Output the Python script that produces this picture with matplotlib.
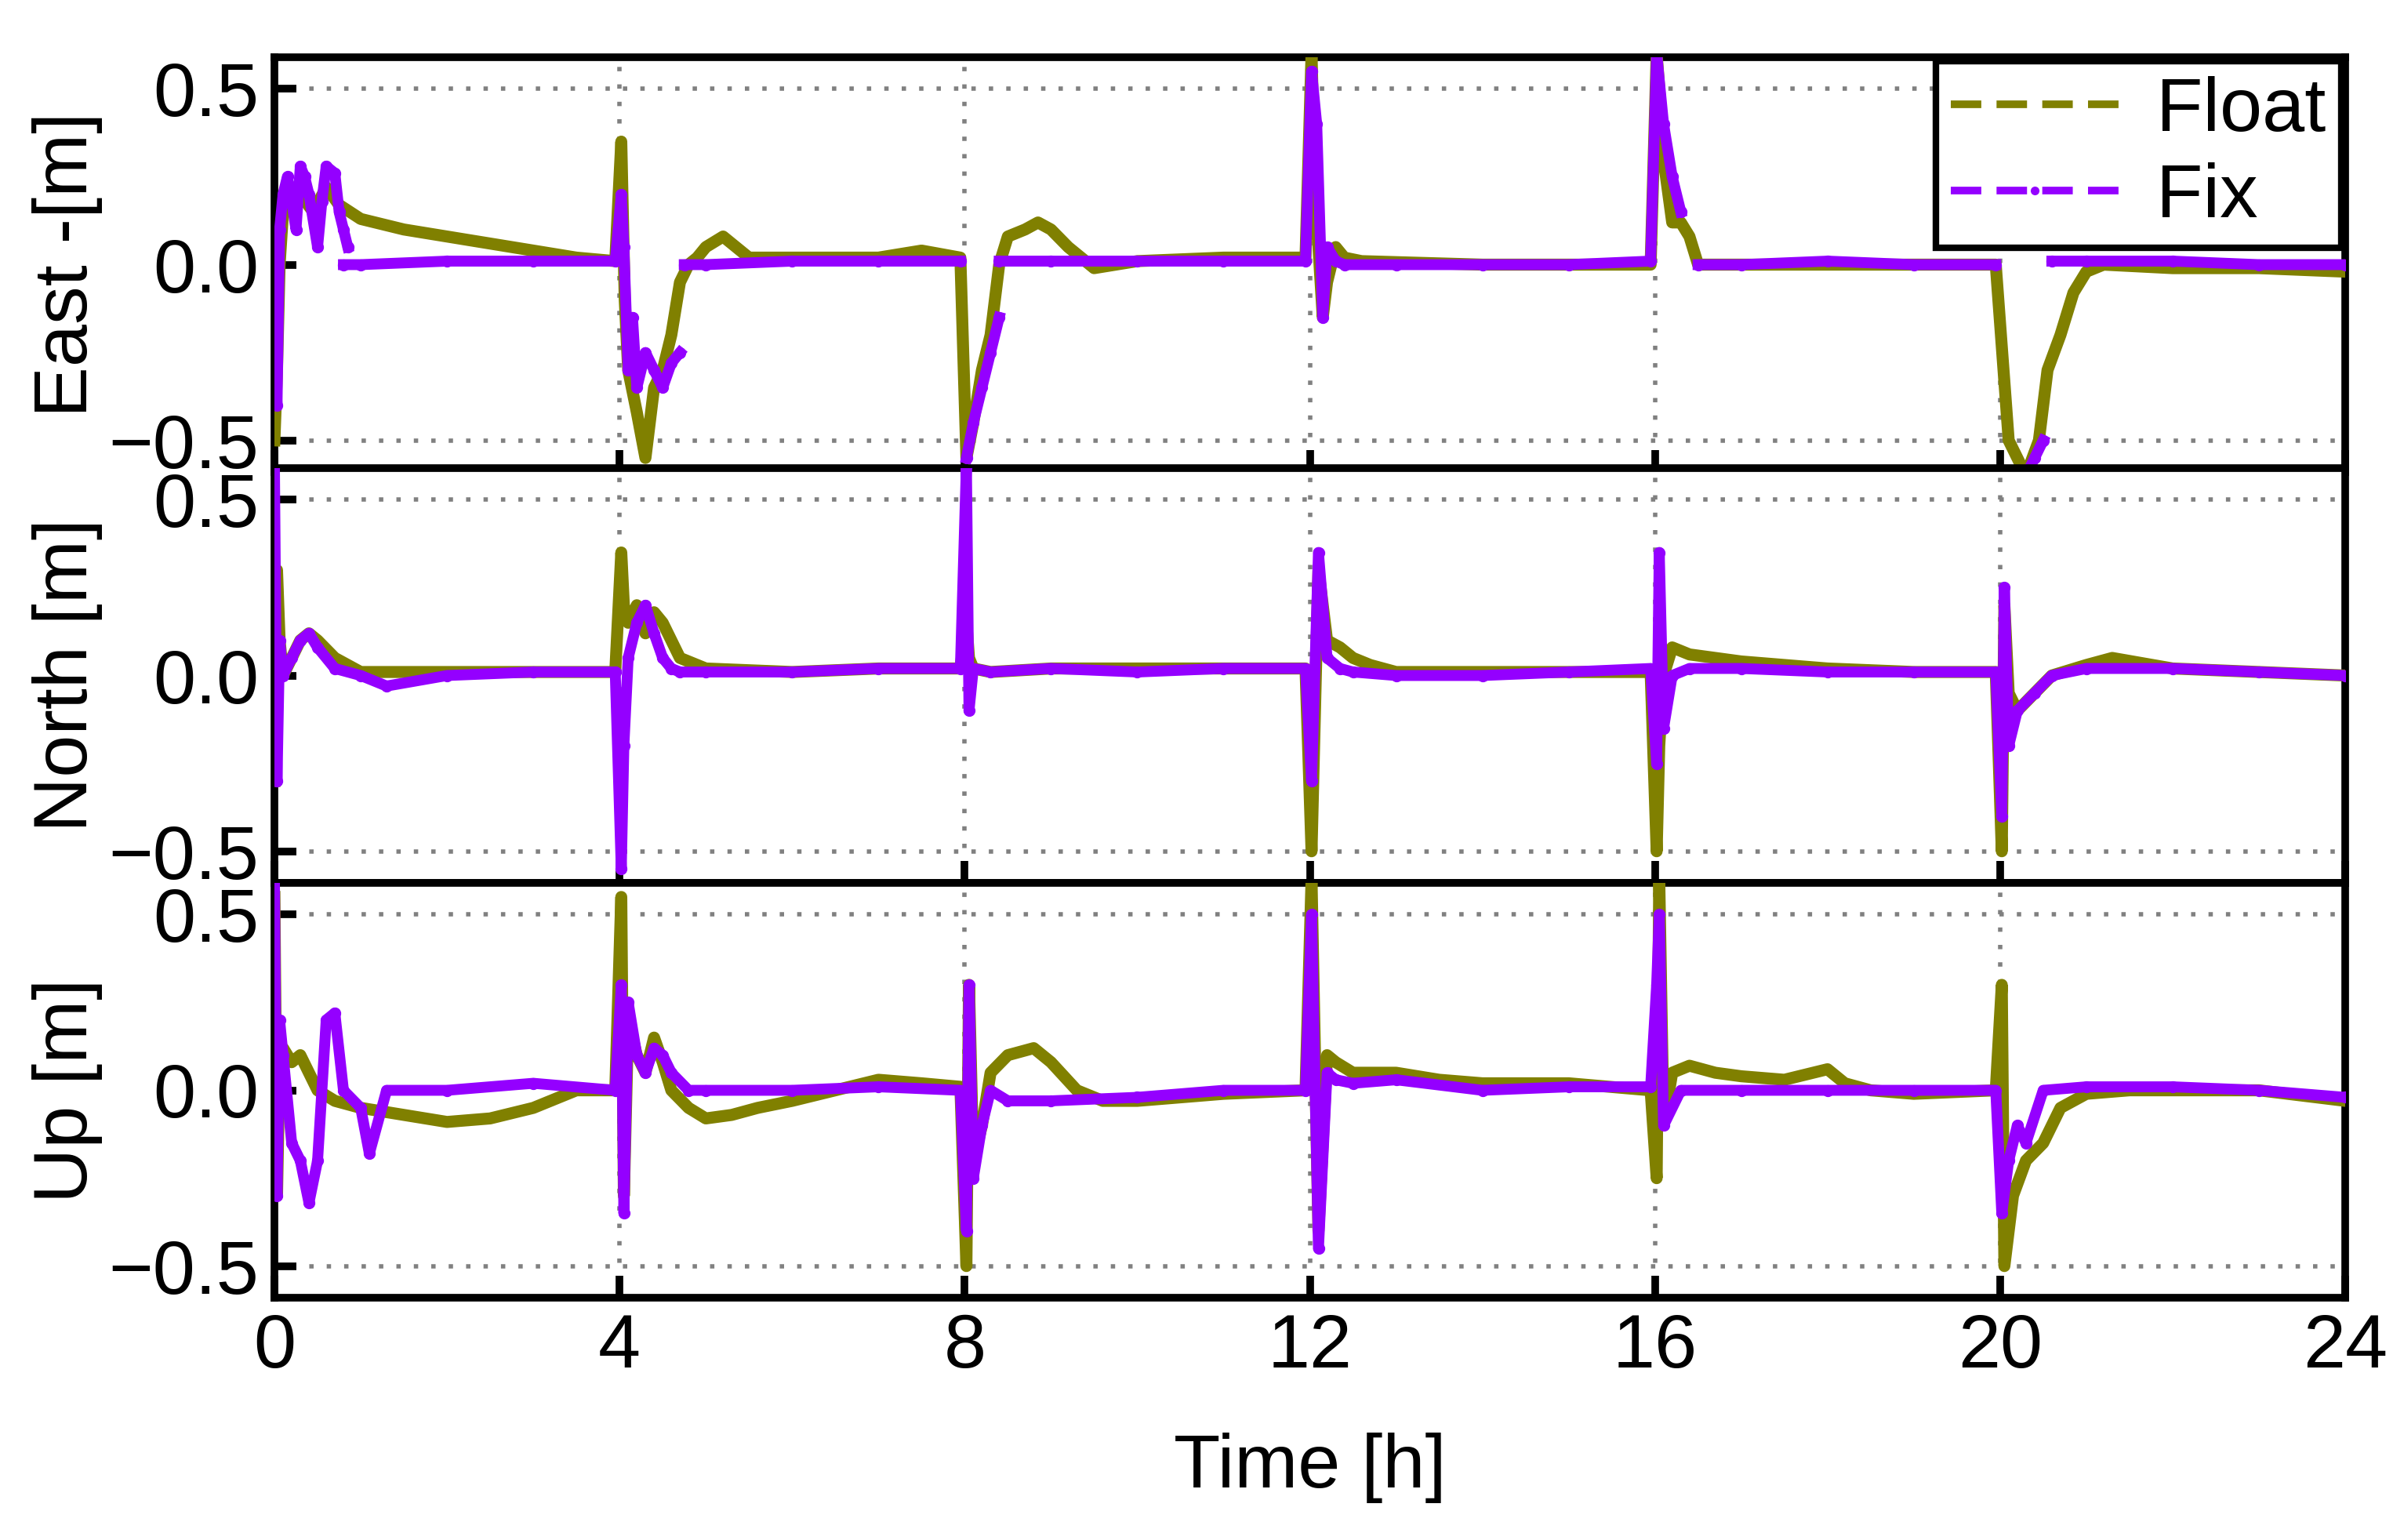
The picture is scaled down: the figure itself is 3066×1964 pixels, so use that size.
import numpy as np
import matplotlib
matplotlib.use("Agg")
import matplotlib.pyplot as plt
from matplotlib.lines import Line2D

nan = np.nan
# ---------------- data (hours, metres) ----------------
east_float_t = [0,0.03,0.06,0.1,0.2,0.3,0.45,0.6,0.75,1.0,1.5,2.0,2.5,3.0,3.5,3.95,
                4.02,4.06,4.1,4.2,4.3,4.4,4.5,4.6,4.7,4.8,4.9,5.0,5.2,5.35,5.5,6.0,7.0,7.5,7.95,
                8.02,8.1,8.2,8.3,8.4,8.5,8.7,8.85,9.0,9.2,9.5,10,11,11.95,
                12.02,12.05,12.1,12.15,12.2,12.3,12.4,12.6,14,15.95,
                16.02,16.05,16.1,16.2,16.3,16.4,16.5,17,18,19.95,
                20.1,20.2,20.3,20.45,20.55,20.7,20.85,21.0,21.2,22,23,24]
east_float_v = [-0.5,-0.3,0.0,0.15,0.22,0.2,0.15,0.22,0.17,0.13,0.1,0.08,0.06,0.04,0.02,0.01,
                0.35,-0.1,-0.3,-0.42,-0.55,-0.35,-0.3,-0.2,-0.05,0.0,0.02,0.05,0.08,0.05,0.02,0.02,0.02,0.04,0.02,
                -0.55,-0.45,-0.3,-0.2,0.0,0.08,0.1,0.12,0.1,0.05,-0.01,0.01,0.02,0.02,
                0.6,0.3,0.05,-0.15,-0.05,0.05,0.02,0.01,0.0,0.0,
                0.6,0.5,0.3,0.12,0.12,0.08,0.0,0.0,0.0,0.0,
                -0.5,-0.55,-0.6,-0.5,-0.3,-0.2,-0.08,-0.02,0.0,-0.01,-0.01,-0.02]
east_fix_t = [0,0.03,0.06,0.1,0.15,0.2,0.25,0.3,0.35,0.4,0.5,0.55,0.6,0.7,0.75,0.8,0.85,nan,
              0.8,1.0,2.0,3.0,3.95,4.02,4.05,4.1,4.15,4.2,4.3,4.4,4.5,4.6,4.7,nan,
              4.75,5,6,7,7.95,nan,8.02,8.1,8.2,8.3,8.4,nan,
              8.4,9,10,11,11.95,12.02,12.08,12.15,12.2,12.3,12.4,13,14,15,15.95,16.02,16.1,16.2,16.3,nan,
              16.5,17,18,19,19.95,nan,20.3,20.4,20.5,nan,20.6,21,22,23,24]
east_fix_v = [-0.2,-0.4,0.1,0.2,0.25,0.18,0.1,0.28,0.25,0.2,0.05,0.18,0.28,0.26,0.15,0.1,0.05,nan,
              0.0,0.0,0.01,0.01,0.01,0.2,0.05,-0.3,-0.15,-0.35,-0.25,-0.3,-0.35,-0.28,-0.25,nan,
              0.0,0.0,0.01,0.01,0.01,nan,-0.55,-0.45,-0.35,-0.25,-0.15,nan,
              0.01,0.01,0.01,0.01,0.01,0.55,0.4,-0.15,0.05,0.01,0.0,0.0,0.0,0.0,0.01,0.6,0.4,0.25,0.15,nan,
              0.0,0.0,0.01,0.0,0.0,nan,-0.6,-0.55,-0.5,nan,0.01,0.01,0.01,0.0,0.0]

north_float_t = [0,0.03,0.06,0.1,0.2,0.3,0.4,0.5,0.7,1.0,2,3,3.95,4.02,4.05,4.1,4.2,4.3,4.4,4.5,4.6,4.7,5,6,7,7.95,
                 8.02,8.05,8.1,8.3,9,10,11,11.95,12.02,12.1,12.2,12.35,12.5,12.7,13,14,15,15.95,
                 16.02,16.05,16.1,16.2,16.4,17,18,19,19.95,20.02,20.05,20.1,20.2,20.4,20.6,21,21.3,22,23,24]
north_float_v = [-0.3,0.3,0.1,0.0,0.05,0.1,0.12,0.1,0.05,0.01,0.01,0.01,0.01,0.35,0.2,0.15,0.2,0.12,0.18,0.15,0.1,0.05,0.02,0.01,0.02,0.02,
                 0.15,0.05,0.02,0.01,0.02,0.02,0.02,0.02,-0.5,0.3,0.1,0.08,0.05,0.03,0.01,0.01,0.01,0.01,
                 -0.5,-0.2,0.0,0.08,0.06,0.04,0.02,0.01,0.01,-0.5,0.2,-0.05,-0.1,-0.05,0.0,0.03,0.05,0.02,0.01,0.0]
north_fix_t = [0,0.03,0.06,0.1,0.2,0.3,0.4,0.5,0.7,1.0,1.3,2,3,3.95,4.02,4.05,4.1,4.2,4.3,4.4,4.5,4.6,4.7,5,6,7,7.95,
               8.02,8.05,8.1,8.3,9,10,11,11.95,12.02,12.1,12.2,12.35,12.5,13,14,15,15.95,
               16.02,16.05,16.1,16.2,16.4,17,18,19,19.95,20.02,20.05,20.1,20.2,20.4,20.6,21,22,23,24]
north_fix_v = [0.6,-0.3,0.1,0.0,0.05,0.1,0.12,0.08,0.02,0.0,-0.03,0.0,0.01,0.01,-0.55,-0.2,0.05,0.15,0.2,0.12,0.05,0.02,0.01,0.01,0.01,0.02,0.02,
               0.6,-0.1,0.02,0.01,0.02,0.01,0.02,0.02,-0.3,0.35,0.05,0.02,0.01,0.0,0.0,0.01,0.02,
               -0.25,0.35,-0.15,0.0,0.02,0.02,0.01,0.01,0.01,-0.4,0.25,-0.2,-0.1,-0.05,0.0,0.02,0.02,0.01,0.0]

up_float_t = [0,0.03,0.06,0.1,0.2,0.3,0.4,0.5,0.7,1.0,1.5,2,2.5,3,3.5,3.95,4.02,4.05,4.1,4.2,4.3,4.4,4.5,4.6,4.8,5,5.3,5.6,6,6.5,7,7.5,7.95,
              8.02,8.05,8.1,8.2,8.3,8.5,8.8,9.0,9.3,9.6,10,11,11.95,12.02,12.1,12.2,12.3,12.5,13,13.5,14,15,15.95,
              16.02,16.05,16.1,16.2,16.4,16.7,17,17.5,18,18.2,18.5,19,19.95,20.02,20.05,20.15,20.3,20.5,20.7,21,21.5,22,23,24]
up_float_v = [0.55,-0.3,0.1,0.12,0.08,0.1,0.05,0.0,-0.03,-0.05,-0.07,-0.09,-0.08,-0.05,0.0,0.0,0.55,-0.3,0.2,0.1,0.05,0.15,0.08,0.0,-0.05,-0.08,-0.07,-0.05,-0.03,0.0,0.03,0.02,0.01,
              -0.5,0.3,-0.2,-0.1,0.05,0.1,0.12,0.08,0.0,-0.03,-0.03,-0.01,0.0,0.6,-0.4,0.1,0.08,0.05,0.05,0.03,0.02,0.02,0.0,
              -0.25,0.6,-0.1,0.05,0.07,0.05,0.04,0.03,0.06,0.02,0.0,-0.01,0.0,0.3,-0.5,-0.3,-0.2,-0.15,-0.05,-0.01,0.0,0.0,0.0,-0.03]
up_fix_t = [0,0.03,0.06,0.1,0.2,0.3,0.4,0.5,0.6,0.7,0.8,1.0,1.1,1.3,2,3,3.95,4.02,4.05,4.1,4.2,4.3,4.4,4.5,4.6,4.8,5,6,7,7.95,
            8.02,8.05,8.1,8.2,8.3,8.5,9,10,11,11.95,12.02,12.1,12.2,12.3,12.5,13,14,15,15.95,
            16.02,16.05,16.1,16.3,17,18,19,19.95,20.02,20.1,20.2,20.3,20.5,21,22,23,24]
up_fix_v = [0.6,-0.3,0.2,0.1,-0.15,-0.2,-0.32,-0.2,0.2,0.22,0.0,-0.05,-0.18,0.0,0.0,0.02,0.0,0.3,-0.35,0.25,0.1,0.05,0.12,0.1,0.05,0.0,0.0,0.0,0.01,0.0,
            -0.4,0.3,-0.25,-0.1,0.0,-0.03,-0.03,-0.02,0.0,0.0,0.5,-0.45,0.05,0.03,0.02,0.03,0.0,0.01,0.01,
            0.3,0.5,-0.1,0.0,0.0,0.0,0.0,0.0,-0.35,-0.2,-0.1,-0.15,0.0,0.01,0.01,0.0,-0.02]

reset_times = [0, 4, 8, 12, 16, 20]
panel_labels = ["East -[m]", "North [m]", "Up [m]"]
xticks = [0, 4, 8, 12, 16, 20, 24]
yticks = [-0.5, 0.0, 0.5]
legend_labels = ["Float", "Fix"]

# ---------------- plotting ----------------
FLOAT_C = "#808000"
FIX_C = "#9400FF"
plt.rcParams['font.family'] = ['Arial', 'Liberation Sans', 'DejaVu Sans']
fig = plt.figure(figsize=(30.66, 19.64), dpi=100)
fs = 70
left, right = 350/3066, 2991/3066
tops = [73, 597, 1126]
h = 529
data = [(east_float_t, east_float_v, east_fix_t, east_fix_v),
        (north_float_t, north_float_v, north_fix_t, north_fix_v),
        (up_float_t, up_float_v, up_fix_t, up_fix_v)]
axes = []
for i, (ft, fv, xt, xv) in enumerate(data):
    ax = fig.add_axes([left, 1 - (tops[i] + h)/1964, right - left, h/1964])
    axes.append(ax)
    for r in reset_times[1:]:
        ax.axvline(r, color="gray", ls=(0, (1, 3)), lw=4, zorder=1)
    for yv in (-0.5, 0.5):
        ax.axhline(yv, color="gray", ls=(0, (1, 3)), lw=4, zorder=1)
    ax.plot(ft, fv, color="#ff4040", lw=6, ls=(0, (4, 2)), zorder=2)
    ax.plot(ft, fv, color=FLOAT_C, lw=11, zorder=3)
    ax.plot(xt, xv, color=FIX_C, lw=10, marker='o', ms=10, zorder=4)
    ax.set_xlim(0, 24)
    ax.set_ylim(-0.59, 0.59)
    ax.set_xticks(xticks)
    ax.set_yticks(yticks)
    ax.set_yticklabels(["\u22120.5", "0.0", "0.5"])
    ax.tick_params(direction="in", length=20, width=7, labelsize=fs, pad=14)
    for s in ax.spines.values():
        s.set_linewidth(7)
    ax.set_ylabel(panel_labels[i], fontsize=fs)
    if i < 2:
        ax.tick_params(labelbottom=False)
    else:
        ax.set_xlabel("Time [h]", fontsize=fs, labelpad=45)
for ax in axes:
    ax.yaxis.set_label_coords(-0.083, 0.5)

handles = [Line2D([], [], color=FLOAT_C, lw=7, ls=(0, (4, 2))),
           Line2D([], [], color=FIX_C, lw=7, ls=(0, (4, 2)), marker='o', ms=7, markevery=[1])]
leg = axes[0].legend(handles, legend_labels, loc="upper right", fontsize=fs, frameon=True,
                     fancybox=False, handlelength=2.2, handletextpad=0.5, borderaxespad=0.05,
                     borderpad=0.2, labelspacing=0.2)
leg.get_frame().set_edgecolor("black")
leg.get_frame().set_linewidth(6)
leg.get_frame().set_alpha(1)
fig.savefig("out.png", dpi=100)
